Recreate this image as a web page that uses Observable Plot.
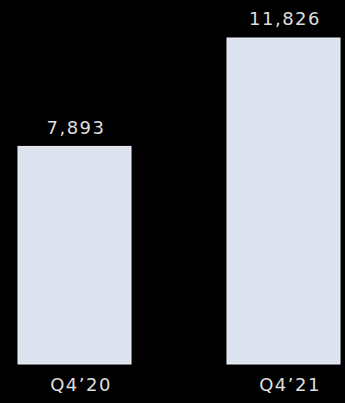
<!DOCTYPE html>
<html>
<head>
<meta charset="utf-8">
<script src="https://cdn.jsdelivr.net/npm/d3@7"></script>
<script src="https://cdn.jsdelivr.net/npm/@observablehq/plot@0.6"></script>
<style>
  html, body { margin: 0; padding: 0; background: #000; }
  #chart svg { display: block; }
  #chart svg text { letter-spacing: 1.5px; }
</style>
</head>
<body>
<div id="chart"></div>
<script>
const categories = ["Q4\u201920", "Q4\u201921"];
const values = [7893, 11826];
const labels = ["7,893", "11,826"];

const data = categories.map((c, i) => ({cat: c, value: values[i], label: labels[i]}));

const chart = Plot.plot({
  width: 345,
  height: 403,
  marginTop: 38,
  marginBottom: 39,
  marginLeft: 17,
  marginRight: 4,
  style: {background: "#000", color: "#dedede", fontFamily: "'DejaVu Sans', sans-serif"},
  x: {domain: categories, paddingInner: 0.457, paddingOuter: 0, label: null},
  y: {domain: [0, 11826], axis: null},
  marks: [
    Plot.barY(data, {x: "cat", y: "value", fill: "#dce3ef", stroke: "#eef1f7", strokeWidth: 1}),
    Plot.text(data, {x: "cat", y: "value", text: "label", dy: -19, dx: 1, fontSize: 18, fill: "#dedede"}),
    Plot.axisX({tickSize: 0, tickPadding: 14, dx: 6, fontSize: 18, fill: "#dedede"})
  ]
});
document.getElementById("chart").append(chart);
</script>
</body>
</html>
